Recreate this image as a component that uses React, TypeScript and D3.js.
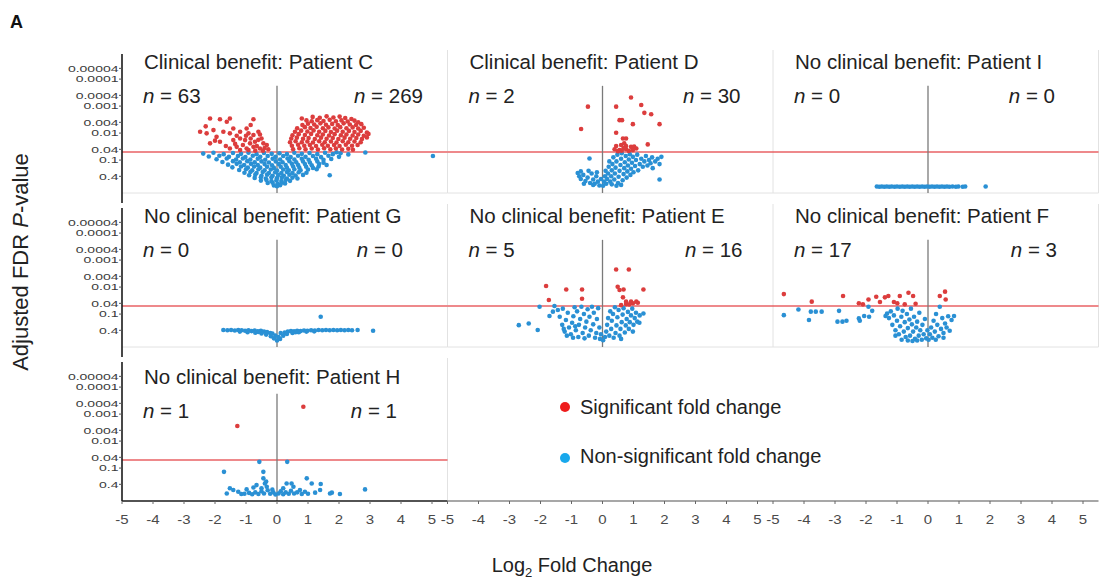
import React from "react";
import * as d3 from "d3";

// [log2 fold change, -log10 adjusted FDR p]
type Pt = [number, number];

const patients = ["C", "D", "I", "G", "E", "F", "H"];
const titles = [
  "Clinical benefit: Patient C",
  "Clinical benefit: Patient D",
  "No clinical benefit: Patient I",
  "No clinical benefit: Patient G",
  "No clinical benefit: Patient E",
  "No clinical benefit: Patient F",
  "No clinical benefit: Patient H",
];
const nDown = [63, 2, 0, 0, 5, 17, 1];
const nUp = [269, 30, 0, 0, 16, 3, 1];
const xTicks = [-5, -4, -3, -2, -1, 0, 1, 2, 3, 4, 5];
const yTickLabels = ["0.4", "0.1", "0.04", "0.01", "0.004", "0.001", "0.0004", "0.0001", "0.00004"];
const fdrCutoff = 0.05;
const legendLabels = ["Significant fold change", "Non-significant fold change"];

const sigC: Pt[] = [
  [-2.16, 2.54], [-1.84, 2.51], [-1.52, 2.54], [-0.76, 2.51], [-1.62, 2.42], [-2.48, 2.05], [-2.27, 1.99],
  [-2.05, 2.11], [-1.95, 1.86], [-1.73, 2.05], [-1.52, 1.99], [-1.41, 2.17], [-1.19, 2.05], [-0.98, 2.17],
  [-0.92, 1.99], [-0.76, 1.93], [-0.6, 2.05], [-2.16, 1.62], [-1.84, 1.68], [-1.41, 1.74], [-1.19, 1.8],
  [-1.03, 1.74], [-0.87, 1.62], [-0.71, 1.68], [-0.44, 1.62], [-0.33, 1.56], [-1.3, 1.49], [-0.98, 1.43],
  [-0.76, 1.49], [-0.55, 1.43], [-1.52, 1.43], [-1.19, 1.37], [-0.92, 1.37], [-0.5, 1.8], [-0.4, 1.45],
  [-0.65, 1.52], [-1.1, 1.56], [-2.3, 2.25], [-1.0, 1.9], [-0.85, 1.8], [-0.7, 1.35], [-0.45, 1.35],
  [-1.3, 1.9], [-2.0, 1.72], [-0.6, 1.75], [-0.28, 1.4], [-0.85, 2.3], [-1.35, 1.6], [-1.65, 1.52], [-0.55, 1.95],
  [1.15, 2.6], [1.38, 2.57], [1.6, 2.62], [1.82, 2.58], [2.02, 2.61], [2.2, 2.56], [0.8, 2.54], [2.4, 2.52],
  [0.95, 2.47], [1.12, 2.44], [1.3, 2.48], [1.5, 2.45], [1.7, 2.49], [1.9, 2.44], [2.08, 2.47], [2.28, 2.43],
  [2.5, 2.46], [2.62, 2.4], [0.82, 2.3], [1.0, 2.35], [1.2, 2.32], [1.4, 2.36], [1.58, 2.31], [1.78, 2.34],
  [1.96, 2.3], [2.15, 2.36], [2.35, 2.32], [2.55, 2.3], [2.72, 2.33], [0.65, 2.18], [0.9, 2.22], [1.08, 2.19],
  [1.28, 2.23], [1.48, 2.18], [1.66, 2.21], [1.86, 2.17], [2.04, 2.22], [2.24, 2.18], [2.44, 2.21], [2.62, 2.17],
  [2.8, 2.2], [0.58, 2.05], [0.78, 2.09], [0.98, 2.06], [1.18, 2.1], [1.36, 2.05], [1.56, 2.08], [1.74, 2.04],
  [1.94, 2.09], [2.12, 2.05], [2.32, 2.08], [2.5, 2.04], [2.7, 2.08], [2.9, 2.02], [0.5, 1.92], [0.7, 1.96],
  [0.9, 1.93], [1.1, 1.97], [1.3, 1.92], [1.48, 1.95], [1.68, 1.91], [1.86, 1.96], [2.06, 1.92], [2.24, 1.95],
  [2.44, 1.91], [2.62, 1.95], [2.8, 1.9], [2.95, 1.97], [0.46, 1.8], [0.64, 1.83], [0.84, 1.79], [1.02, 1.82],
  [1.22, 1.78], [1.42, 1.83], [1.6, 1.79], [1.8, 1.82], [1.98, 1.78], [2.18, 1.83], [2.36, 1.79], [2.56, 1.82],
  [2.74, 1.78], [2.9, 1.84], [0.42, 1.66], [0.6, 1.7], [0.8, 1.66], [0.98, 1.69], [1.16, 1.65], [1.36, 1.7],
  [1.54, 1.66], [1.74, 1.69], [1.92, 1.65], [2.12, 1.7], [2.3, 1.66], [2.5, 1.69], [2.7, 1.66], [0.48, 1.53],
  [0.68, 1.57], [0.88, 1.53], [1.06, 1.56], [1.26, 1.52], [1.46, 1.57], [1.64, 1.53], [1.84, 1.56], [2.02, 1.52],
  [2.22, 1.57], [2.42, 1.53], [2.6, 1.56], [0.52, 1.4], [0.72, 1.44], [0.92, 1.4], [1.12, 1.43], [1.32, 1.39],
  [1.52, 1.44], [1.72, 1.4], [1.9, 1.43], [2.1, 1.39], [2.3, 1.42], [2.45, 1.38],
];
const nsC: Pt[] = [
  [-2.38, 1.24], [-2.05, 1.27], [-1.72, 1.22], [-1.42, 1.26], [-1.16, 1.23], [-0.92, 1.27], [-0.66, 1.22],
  [-0.42, 1.26], [-0.17, 1.23], [0.08, 1.25], [0.32, 1.22], [0.56, 1.27], [0.8, 1.23], [1.05, 1.26], [1.3, 1.22],
  [1.55, 1.27], [1.8, 1.22], [2.05, 1.25], [2.3, 1.21], [1.92, 1.29], [2.85, 1.28], [5.03, 1.15],
  [-2.2, 1.13], [-1.86, 1.16], [-1.55, 1.12], [-1.26, 1.15], [-1.02, 1.11], [-0.78, 1.16], [-0.54, 1.12],
  [-0.3, 1.15], [-0.05, 1.12], [0.2, 1.15], [0.44, 1.11], [0.68, 1.16], [0.92, 1.12], [1.16, 1.15], [1.42, 1.11],
  [1.66, 1.16], [2.0, 1.12], [-1.95, 1.03], [-1.62, 1.06], [-1.32, 1.02], [-1.1, 1.06], [-0.86, 1.02],
  [-0.62, 1.05], [-0.38, 1.01], [-0.14, 1.05], [0.1, 1.02], [0.34, 1.06], [0.56, 1.02], [0.8, 1.05], [1.02, 1.01],
  [1.26, 1.05], [1.5, 1.01], [1.75, 1.04], [-1.76, 0.93], [-1.42, 0.96], [-1.2, 0.92], [-0.96, 0.96],
  [-0.72, 0.92], [-0.5, 0.95], [-0.26, 0.91], [-0.04, 0.95], [0.18, 0.92], [0.4, 0.96], [0.62, 0.92], [0.84, 0.95],
  [1.06, 0.91], [1.3, 0.95], [1.5, 0.9], [-1.58, 0.83], [-1.3, 0.86], [-1.06, 0.82], [-0.84, 0.86], [-0.62, 0.82],
  [-0.4, 0.85], [-0.16, 0.81], [0.06, 0.85], [0.28, 0.82], [0.48, 0.86], [0.68, 0.82], [0.9, 0.85], [1.12, 0.81],
  [1.36, 0.85], [1.6, 0.82], [-1.44, 0.73], [-1.16, 0.76], [-0.94, 0.72], [-0.74, 0.76], [-0.54, 0.72],
  [-0.32, 0.75], [-0.1, 0.71], [0.12, 0.75], [0.32, 0.72], [0.52, 0.76], [0.72, 0.72], [0.94, 0.75], [1.16, 0.71],
  [1.34, 0.76], [-1.22, 0.63], [-1.0, 0.66], [-0.8, 0.62], [-0.6, 0.66], [-0.4, 0.62], [-0.2, 0.65], [0.0, 0.61],
  [0.2, 0.65], [0.38, 0.62], [0.56, 0.66], [0.76, 0.62], [1.0, 0.65], [1.28, 0.66], [-1.05, 0.53], [-0.86, 0.56],
  [-0.66, 0.52], [-0.46, 0.56], [-0.26, 0.52], [-0.06, 0.55], [0.14, 0.52], [0.32, 0.56], [0.5, 0.52], [0.7, 0.55],
  [0.95, 0.53], [-0.9, 0.44], [-0.7, 0.46], [-0.5, 0.42], [-0.32, 0.46], [-0.14, 0.42], [0.04, 0.45], [0.22, 0.42],
  [0.4, 0.46], [0.6, 0.43], [0.84, 0.45], [1.7, 0.44], [-0.72, 0.34], [-0.52, 0.36], [-0.36, 0.32], [-0.18, 0.36],
  [0.0, 0.33], [0.16, 0.36], [0.32, 0.32], [0.5, 0.35], [0.66, 0.32], [-0.52, 0.24], [-0.34, 0.26], [-0.18, 0.22],
  [-0.02, 0.25], [0.14, 0.22], [0.28, 0.26], [0.42, 0.23], [-0.3, 0.15], [-0.14, 0.16], [0.02, 0.13], [0.16, 0.16],
  [0.26, 0.13], [-0.1, 0.06], [0.0, 0.03], [0.1, 0.07],
];

const sigD: Pt[] = [
  [0.92, 3.32], [1.25, 3.04], [1.35, 2.75], [1.57, 2.7], [-0.47, 2.98], [-0.69, 2.15], [0.44, 2.98], [0.55, 2.48],
  [0.63, 2.48], [0.98, 2.33], [1.84, 2.33], [0.44, 2.01], [0.66, 1.8], [0.76, 1.8], [1.46, 1.58], [0.44, 1.52],
  [0.6, 1.56], [0.76, 1.52], [0.92, 1.49], [1.09, 1.43], [0.55, 1.37], [0.76, 1.4], [0.98, 1.37], [0.39, 1.4],
  [0.68, 1.45], [0.85, 1.34], [0.5, 1.33], [1.02, 1.5], [0.7, 1.62], [0.62, 1.35],
];
const nsD: Pt[] = [
  [-0.8, 0.52], [-0.75, 0.4], [-0.7, 0.3], [-0.62, 0.45], [-0.55, 0.22], [-0.48, 0.35], [-0.42, 1.06], [-0.4, 0.15],
  [-0.35, 0.5], [-0.3, 0.28], [-0.25, 0.12], [-0.2, 0.4], [-0.15, 0.2], [-0.1, 0.06], [-0.05, 0.3], [-0.6, 0.12],
  [-0.45, 0.6], [-0.7, 0.58], [-0.3, 0.08], [-0.18, 0.55], [0.02, 0.05], [0.05, 0.2], [0.08, 0.4], [0.1, 0.6],
  [0.12, 0.12], [0.15, 0.3], [0.18, 0.5], [0.2, 0.75], [0.22, 0.95], [0.25, 0.2], [0.28, 0.4], [0.3, 0.62],
  [0.32, 0.85], [0.35, 1.1], [0.38, 0.28], [0.4, 0.5], [0.42, 0.72], [0.45, 0.95], [0.48, 1.2], [0.5, 0.15],
  [0.52, 0.38], [0.55, 0.6], [0.58, 0.82], [0.6, 1.05], [0.62, 1.25], [0.65, 0.25], [0.68, 0.48], [0.7, 0.7],
  [0.72, 0.92], [0.75, 1.15], [0.78, 0.35], [0.8, 0.58], [0.82, 0.8], [0.85, 1.02], [0.88, 1.22], [0.9, 0.45],
  [0.92, 0.68], [0.95, 0.9], [0.98, 1.12], [1.0, 0.55], [1.05, 0.78], [1.08, 1.0], [1.12, 1.2], [1.15, 0.62],
  [1.2, 0.85], [1.25, 1.05], [1.3, 0.75], [1.35, 0.95], [1.4, 1.15], [1.45, 0.8], [1.5, 1.0], [1.55, 0.88],
  [1.6, 1.1], [1.62, 0.7], [1.7, 0.95], [1.78, 1.05], [1.84, 0.28], [1.84, 0.85], [1.9, 1.12], [0.3, 0.1],
  [0.6, 0.08], [0.45, 0.05],
];

const sigI: Pt[] = [];
const nsI: Pt[] = [
  [-1.65, 0.02], [-1.57, 0.01], [-1.49, 0.02], [-1.41, 0.01], [-1.33, 0.02], [-1.25, 0.01], [-1.17, 0.02],
  [-1.08, 0.01], [-1.0, 0.02], [-0.91, 0.01], [-0.83, 0.02], [-0.75, 0.01], [-0.67, 0.02], [-0.59, 0.01],
  [-0.51, 0.02], [-0.43, 0.01], [-0.35, 0.02], [-0.27, 0.01], [-0.19, 0.02], [-0.11, 0.01], [-0.03, 0.02],
  [0.05, 0.01], [0.13, 0.02], [0.21, 0.01], [0.29, 0.02], [0.37, 0.01], [0.45, 0.02], [0.53, 0.01], [0.61, 0.02],
  [0.69, 0.01], [0.79, 0.02], [0.9, 0.01], [0.98, 0.02], [1.12, 0.01], [1.2, 0.02], [1.86, 0.02],
];

const sigG: Pt[] = [];
const nsG: Pt[] = [
  [-1.73, 0.41], [-1.6, 0.4], [-1.48, 0.41], [-1.36, 0.39], [-1.25, 0.41], [-1.14, 0.4], [-1.03, 0.38],
  [-0.92, 0.4], [-0.82, 0.37], [-0.72, 0.39], [-0.62, 0.36], [-0.52, 0.38], [-0.42, 0.35], [-0.32, 0.33],
  [-0.22, 0.3], [0.25, 0.32], [0.35, 0.35], [0.45, 0.37], [0.55, 0.36], [0.65, 0.38], [0.76, 0.37], [0.87, 0.39],
  [0.98, 0.38], [1.1, 0.4], [1.22, 0.39], [1.34, 0.41], [1.46, 0.4], [1.58, 0.41], [1.7, 0.4], [1.82, 0.41],
  [1.94, 0.4], [2.06, 0.41], [2.18, 0.4], [2.3, 0.41], [2.42, 0.4], [2.6, 0.41], [3.1, 0.38], [1.41, 0.9],
  [-1.2, 0.35], [-0.95, 0.33], [-0.7, 0.31], [-0.5, 0.28], [-0.35, 0.24], [-0.2, 0.18], [-0.1, 0.1], [0.0, 0.02],
  [0.1, 0.08], [0.2, 0.2], [0.32, 0.26], [0.5, 0.3], [0.7, 0.33], [0.95, 0.35], [1.2, 0.36], [-0.05, 0.2],
  [0.05, 0.15], [-0.15, 0.28], [0.12, 0.3], [-0.6, 0.34], [0.6, 0.33],
];

const sigE: Pt[] = [
  [0.44, 2.65], [0.85, 2.65], [-1.82, 2.04], [-1.17, 1.91], [-0.66, 1.91], [0.49, 2.01], [0.55, 1.89], [0.68, 1.91],
  [1.32, 1.91], [-1.73, 1.52], [-0.66, 1.57], [0.66, 1.62], [0.76, 1.46], [0.92, 1.46], [1.09, 1.46], [0.76, 1.37],
  [0.98, 1.4], [1.14, 1.42], [0.6, 1.33], [0.86, 1.36],
];
const nsE: Pt[] = [
  [-2.7, 0.59], [-2.38, 0.65], [-2.09, 0.41], [-2.03, 1.27], [-1.71, 0.93], [-1.6, 1.09], [-1.44, 1.15], [-1.55, 1.3],
  [-1.38, 0.9], [-1.3, 0.6], [-1.28, 1.2], [-1.22, 0.35], [-1.18, 0.78], [-1.12, 1.05], [-1.08, 0.5], [-1.02, 0.25],
  [-0.98, 0.68], [-0.94, 0.92], [-0.9, 1.25], [-0.86, 0.4], [-0.82, 1.1], [-0.78, 0.15], [-0.76, 0.6], [-0.72, 0.82],
  [-0.68, 1.27], [-0.64, 0.3], [-0.6, 1.0], [-0.56, 0.5], [-0.52, 0.72], [-0.48, 1.18], [-0.44, 0.2], [-0.42, 0.9],
  [-0.38, 0.4], [-0.34, 1.27], [-0.3, 0.62], [-0.28, 1.05], [-0.24, 0.12], [-0.2, 0.3], [-0.18, 0.82], [-0.14, 1.22],
  [-0.1, 0.5], [-0.08, 0.08], [-0.05, 0.25], [-0.95, 0.12], [-1.15, 0.2], [-0.58, 0.1], [-1.25, 0.45], [-0.88, 0.55],
  [0.02, 0.03], [0.08, 0.15], [0.12, 0.35], [0.15, 0.6], [0.18, 0.85], [0.22, 0.2], [0.25, 1.1], [0.28, 0.45],
  [0.3, 0.75], [0.34, 1.0], [0.36, 0.12], [0.4, 1.25], [0.42, 0.3], [0.45, 0.58], [0.48, 0.88], [0.52, 1.15],
  [0.55, 0.2], [0.58, 0.45], [0.62, 0.7], [0.65, 0.98], [0.68, 1.22], [0.72, 0.32], [0.75, 0.58], [0.78, 0.82],
  [0.82, 1.08], [0.85, 0.45], [0.88, 0.7], [0.92, 0.95], [0.96, 1.2], [1.0, 0.6], [1.04, 0.85], [1.08, 1.05],
  [1.12, 0.72], [1.19, 0.68], [1.32, 1.02], [1.2, 0.95], [0.98, 0.35], [0.6, 0.08],
];

const sigF: Pt[] = [
  [-4.65, 1.74], [-3.75, 1.46], [-2.74, 1.67], [-2.23, 1.4], [-1.92, 1.54], [-1.67, 1.64], [-1.39, 1.62],
  [-1.28, 1.67], [-0.99, 1.4], [-0.91, 1.67], [-0.63, 1.79], [-0.48, 1.67], [-1.1, 1.45], [-0.75, 1.36],
  [-2.1, 1.36], [-1.55, 1.45], [-0.4, 1.38], [0.38, 1.67], [0.55, 1.83], [0.57, 1.54],
];
const nsF: Pt[] = [
  [-4.65, 0.96], [-4.18, 1.17], [-3.84, 0.78], [-3.78, 1.09], [-3.62, 1.09], [-3.43, 1.09], [-2.87, 1.12],
  [-2.92, 0.72], [-2.76, 0.72], [-2.63, 0.75], [-2.23, 0.84], [-2.2, 0.75], [-2.06, 0.93], [-1.9, 0.9],
  [-1.8, 1.12], [-1.92, 1.27], [-1.37, 0.93], [-1.32, 1.02], [-1.26, 0.85], [-1.2, 1.1], [-1.15, 0.6], [-1.1, 0.95],
  [-1.05, 0.4], [-1.0, 0.75], [-0.98, 1.2], [-0.94, 0.25], [-0.9, 0.55], [-0.86, 0.9], [-0.82, 1.12], [-0.78, 0.35],
  [-0.75, 0.7], [-0.72, 0.15], [-0.68, 1.0], [-0.65, 0.48], [-0.6, 0.8], [-0.58, 0.2], [-0.55, 1.2], [-0.52, 0.62],
  [-0.48, 0.35], [-0.45, 0.9], [-0.42, 0.08], [-0.38, 0.5], [-0.35, 0.72], [-0.3, 0.2], [-0.28, 1.05], [-0.25, 0.4],
  [-0.2, 0.05], [-0.18, 0.6], [-0.14, 0.25], [-0.1, 0.82], [-0.06, 0.1], [-0.02, 0.4], [-0.85, 0.05], [-0.65, 0.02],
  [-0.5, 0.0], [-1.05, 0.2], [-0.35, 0.02], [0.02, 0.05], [0.06, 0.25], [0.1, 0.5], [0.14, 0.12], [0.18, 0.75],
  [0.22, 0.35], [0.26, 1.0], [0.3, 0.6], [0.34, 0.18], [0.38, 1.27], [0.42, 0.45], [0.46, 0.85], [0.5, 0.3],
  [0.55, 0.65], [0.6, 0.5], [0.65, 0.92], [0.7, 0.38], [0.76, 0.78], [0.84, 0.93], [0.25, 0.05], [0.5, 0.12],
];

const sigH: Pt[] = [[-1.28, 2.56], [0.85, 3.27]];
const nsH: Pt[] = [
  [-0.57, 1.23], [0.33, 1.23], [-1.71, 0.86], [-0.44, 0.86], [-0.44, 0.62], [0.96, 0.62], [1.12, 0.43], [1.41, 0.41],
  [2.84, 0.21], [2.03, 0.04], [1.71, 0.06], [1.77, 0.09], [1.23, 0.09], [1.39, 0.19], [-1.52, 0.25], [-1.62, 0.06],
  [-1.41, 0.19], [-1.25, 0.12], [-0.98, 0.21], [-0.76, 0.28], [-0.66, 0.37], [-0.39, 0.43], [-0.33, 0.31],
  [0.31, 0.43], [0.47, 0.43], [0.53, 0.31], [0.74, 0.19], [-1.05, 0.05], [-0.9, 0.08], [-0.8, 0.03], [-0.7, 0.1],
  [-0.6, 0.04], [-0.5, 0.14], [-0.42, 0.06], [-0.3, 0.18], [-0.22, 0.05], [-0.12, 0.1], [-0.05, 0.02], [0.05, 0.06],
  [0.12, 0.14], [0.2, 0.03], [0.28, 0.1], [0.38, 0.05], [0.45, 0.16], [0.55, 0.06], [0.65, 0.1], [0.8, 0.04],
  [0.9, 0.12], [-0.35, 0.5], [-1.15, 0.04], [1.0, 0.05], [-0.5, 0.25], [0.2, 0.25], [-0.15, 0.2],
];

const sigPoints = [sigC, sigD, sigI, sigG, sigE, sigF, sigH];
const nsPoints = [nsC, nsD, nsI, nsG, nsE, nsF, nsH];

// layout
const W = 1103;
const H = 583;
const colLeft = [122, 447.5, 773];
const panelW = 325.5;
const rowTop = [54, 208, 362];
const panelH = 139;
const cells = [[0, 0], [0, 1], [0, 2], [1, 0], [1, 1], [1, 2], [2, 0]];
const nUpRight = [301, 293, 282, 281, 295, 284, 275];
const FONT = "'Liberation Sans', Arial, Helvetica, sans-serif";
const RED = "#dc3d3d";
const BLUE = "#2a90d4";
const R = 2.3;

function Panel({ i }: { i: number }) {
  const [row, col] = cells[i];
  const left = colLeft[col];
  const top = rowTop[row];
  const bottom = top + panelH;
  const x = d3.scaleLinear().domain([-5, 5.5]).range([left, left + panelW]);
  const y = d3.scaleLinear().domain([-0.22, 4.93]).range([bottom, top]);
  const txt = row === 2 ? 7 : 0;
  const cut = y(-Math.log10(fdrCutoff));

  return (
    <g>
      {/* panel frame */}
      <line x1={left + panelW} x2={left + panelW} y1={top - 4} y2={bottom} stroke="#e2e2e2" />
      {row < 2 && <line x1={left} x2={left + panelW} y1={bottom} y2={bottom} stroke="#e2e2e2" />}
      <line x1={left} x2={left + panelW} y1={cut} y2={cut} stroke="#e6474a" strokeWidth={1.6} opacity={0.85} />
      <line x1={x(0)} x2={x(0)} y1={y(3.75)} y2={bottom} stroke="#7a7a7a" strokeWidth={1.3} />
      {nsPoints[i].map((d, k) => (
        <circle key={"n" + k} cx={x(d[0])} cy={y(d[1])} r={R} fill={BLUE} />
      ))}
      {sigPoints[i].map((d, k) => (
        <circle key={"s" + k} cx={x(d[0])} cy={y(d[1])} r={R} fill={RED} />
      ))}
      <text x={left + 22} y={top + 15 + txt} fontSize={20.5} fill="#222" fontFamily={FONT}>
        {titles[i]}
      </text>
      <text x={left + 21} y={top + 49 + txt} fontSize={20.5} fill="#222" fontFamily={FONT}>
        <tspan fontStyle="italic">n</tspan> = {nDown[i]}
      </text>
      <text x={left + nUpRight[i]} y={top + 49 + txt} fontSize={20.5} fill="#222" fontFamily={FONT} textAnchor="end">
        <tspan fontStyle="italic">n</tspan> = {nUp[i]}
      </text>
    </g>
  );
}

function YAxis({ row }: { row: number }) {
  const top = rowTop[row];
  const bottom = top + panelH;
  const y = d3.scaleLinear().domain([-0.22, 4.93]).range([bottom, top]);
  return (
    <g>
      <line x1={122} x2={122} y1={top} y2={row < 2 ? bottom + 10 : bottom} stroke="#1a1a1a" strokeWidth={1.6} />
      {yTickLabels.map((t) => {
        const yy = y(-Math.log10(+t));
        return (
          <g key={t}>
            <line x1={119} x2={122} y1={yy} y2={yy} stroke="#555" />
            <text
              transform={`translate(118.5,${yy}) scale(1,0.7)`}
              fontSize={14}
              fill="#3a3a3a"
              fontFamily={FONT}
              textAnchor="end"
              dominantBaseline="central"
            >
              {t}
            </text>
          </g>
        );
      })}
    </g>
  );
}

function XAxis() {
  const base = rowTop[2] + panelH;
  return (
    <g>
      <line x1={colLeft[0]} x2={colLeft[1]} y1={base} y2={base} stroke="#1a1a1a" strokeWidth={1.6} />
      <line x1={colLeft[1]} x2={colLeft[2] + panelW} y1={base} y2={base} stroke="#8a8a8a" strokeWidth={1.4} />
      {colLeft.map((l, c) => {
        const x = d3.scaleLinear().domain([-5, 5.5]).range([l, l + panelW]);
        return xTicks.map((t) => (
          <g key={c + "_" + t}>
            <line x1={x(t)} x2={x(t)} y1={base} y2={base + 3} stroke="#666" />
            <text
              transform={`translate(${x(t)},${base + 23}) scale(1,0.82)`}
              fontSize={15}
              fill="#4a4a4a"
              fontFamily={FONT}
              textAnchor="middle"
            >
              {t}
            </text>
          </g>
        ));
      })}
    </g>
  );
}

export default function App() {
  return (
    <svg
      width={W}
      height={H}
      viewBox={`0 0 ${W} ${H}`}
      style={{ position: "absolute", left: 0, top: 0, background: "#fff" }}
    >
      <rect width={W} height={H} fill="#fff" />
      <text x={10} y={28} fontSize={18} fontWeight="bold" fill="#111" fontFamily={FONT}>
        A
      </text>
      {patients.map((p, i) => (
        <Panel key={p} i={i} />
      ))}
      {[0, 1, 2].map((r) => (
        <YAxis key={r} row={r} />
      ))}
      <XAxis />
      <text
        transform="translate(28,262) rotate(-90)"
        fontSize={22}
        fill="#222"
        fontFamily={FONT}
        textAnchor="middle"
      >
        Adjusted FDR <tspan fontStyle="italic">P</tspan>-value
      </text>
      <text x={572} y={572} fontSize={20} fill="#222" fontFamily={FONT} textAnchor="middle">
        Log<tspan fontSize={13} dy={5}>2</tspan>
        <tspan dy={-5}> Fold Change</tspan>
      </text>
      <circle cx={565} cy={407} r={5} fill="#ee1c1c" />
      <text x={580} y={414} fontSize={20} fill="#222" fontFamily={FONT}>
        {legendLabels[0]}
      </text>
      <circle cx={565} cy={458} r={5} fill="#18a8ec" />
      <text x={580} y={463} fontSize={20} fill="#222" fontFamily={FONT}>
        {legendLabels[1]}
      </text>
    </svg>
  );
}
